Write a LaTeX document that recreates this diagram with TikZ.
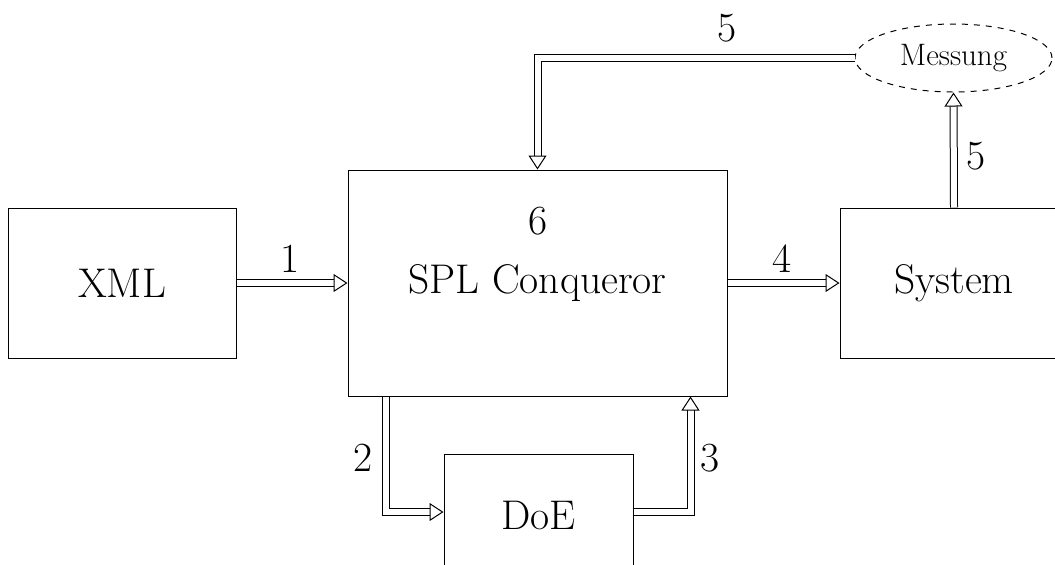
\documentclass[tikz,border=0pt]{standalone}
\usetikzlibrary{arrows.meta,shapes.geometric}
\begin{document}
\begin{tikzpicture}[x=0.5pt,y=-0.5pt, line width=0.5pt,
  box/.style={draw, rectangle, inner sep=0pt, font=\huge},
  dbl/.style={double, double distance=3pt, line join=miter, -{Triangle[open, length=7pt, width=9pt, line join=miter]}},
  num/.style={font=\huge, inner sep=0pt}]
\useasboundingbox (0,0) rectangle (1055,564);
\begin{scope}
\clip (0,0) rectangle (1055,564);
\node[box, minimum width=114pt, minimum height=75pt] (xml) at (122,283) {XML};
\node[box, minimum width=189.5pt, minimum height=113pt] (spl) at (537.5,283) {SPL Conqueror};
\node[box, minimum width=114pt, minimum height=75pt] (sys) at (954,283) {System};
\node[box, minimum width=94.5pt, minimum height=61pt] (doe) at (538.5,515) {DoE};
\node[draw, dashed, ellipse, inner sep=0pt, minimum width=98.5pt, minimum height=34pt, font=\fontsize{15.5pt}{18pt}\selectfont] (mes) at (953.5,58) {Messung};
\node[num] (n6) at (538,221) {6};
\draw[dbl] (xml.east) -- (spl.west |- xml.east);
\draw[dbl] (spl.east) -- (sys.west);
\draw[dbl] ([xshift=19pt]spl.south west) |- ([yshift=1.5pt]doe.west);
\draw[dbl] ([yshift=1.5pt]doe.east) -| ([xshift=-18.5pt]spl.south east);
\draw[dbl] (sys.north) -- (mes.south);
\draw[dbl] (mes.west) -| (spl.north);
\node[num] (n1) at (290,259) {1};
\node[num] (n4) at (782,259) {4};
\node[num] (n2) at (363,458) {2};
\node[num] (n3) at (710,458) {3};
\node[num] (n5a) at (727,28) {5};
\node[num] (n5b) at (976,156) {5};
\end{scope}
\end{tikzpicture}
\end{document}
